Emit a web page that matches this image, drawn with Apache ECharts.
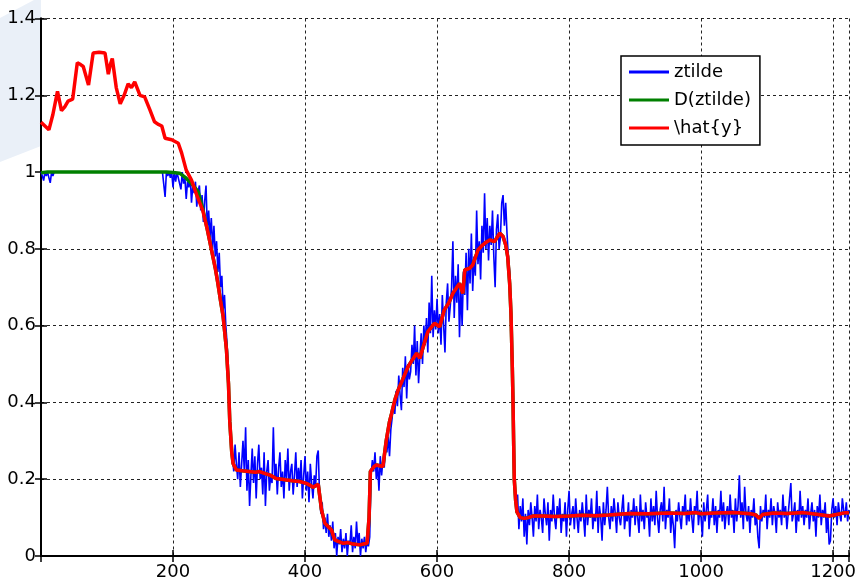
<!DOCTYPE html>
<html>
<head>
<meta charset="utf-8">
<script src="https://cdn.jsdelivr.net/npm/echarts@6/dist/echarts.min.js"></script>
<style>
  html, body { margin: 0; padding: 0; background: #ffffff; }
  #chart { width: 859px; height: 583px; }
</style>
</head>
<body>
<div id="chart"></div>
<script>
// ---- data ----------------------------------------------------------------
// x axis range and ticks
const xMax = 1224;
const xTickStep = 200;
const yTicks = [0, 0.2, 0.4, 0.6, 0.8, 1, 1.2, 1.4];

// ztilde: one value every zStep samples, starting at sample 0 (10 values per row)
const zStep = 2;
const ztilde = [
  1.0, 0.99, 0.978, 1.0, 0.99, 1.0, 0.985, 0.972, 1.0, 0.99,
  1.0, 1.0, 1.0, 1.0, 1.0, 1.0, 1.0, 1.0, 1.0, 1.0,
  1.0, 1.0, 1.0, 1.0, 1.0, 1.0, 1.0, 1.0, 1.0, 1.0,
  1.0, 1.0, 1.0, 1.0, 1.0, 1.0, 1.0, 1.0, 1.0, 1.0,
  1.0, 1.0, 1.0, 1.0, 1.0, 1.0, 1.0, 1.0, 1.0, 1.0,
  1.0, 1.0, 1.0, 1.0, 1.0, 1.0, 1.0, 1.0, 1.0, 1.0,
  1.0, 1.0, 1.0, 1.0, 1.0, 1.0, 1.0, 1.0, 1.0, 1.0,
  1.0, 1.0, 1.0, 1.0, 1.0, 1.0, 1.0, 1.0, 1.0, 1.0,
  1.0, 1.0, 1.0, 1.0, 1.0, 1.0, 1.0, 1.0, 1.0, 1.0,
  1.0, 1.0, 1.0, 1.0, 0.935, 1.0, 0.99, 1.0, 0.985, 1.0,
  0.96, 1.0, 0.975, 1.0, 0.985, 0.99, 0.955, 1.0, 0.97, 0.985,
  0.93, 0.975, 0.96, 0.99, 0.92, 0.965, 0.945, 0.975, 0.91, 0.95,
  0.965, 0.9, 0.94, 0.87, 0.925, 0.965, 0.85, 0.9, 0.83, 0.88,
  0.8, 0.86, 0.78, 0.82, 0.74, 0.79, 0.7, 0.73, 0.64, 0.68,
  0.6, 0.55, 0.47, 0.38, 0.3, 0.26, 0.22, 0.29, 0.24, 0.2,
  0.27, 0.18, 0.24, 0.3, 0.22, 0.335, 0.17, 0.25, 0.13, 0.21,
  0.28, 0.19, 0.26, 0.15, 0.24, 0.29, 0.2, 0.23, 0.16, 0.27,
  0.13, 0.22, 0.25, 0.17, 0.21, 0.19, 0.335, 0.2, 0.24, 0.16,
  0.23, 0.27, 0.18, 0.22, 0.15, 0.25, 0.2, 0.28, 0.17, 0.22,
  0.24, 0.16, 0.21, 0.27, 0.18, 0.23, 0.19, 0.25, 0.15, 0.21,
  0.26, 0.17, 0.22, 0.14, 0.24, 0.19, 0.15, 0.21, 0.18, 0.26,
  0.275, 0.16, 0.11, 0.14, 0.07, 0.1, 0.06, 0.11, 0.05, 0.08,
  0.04, 0.09, 0.02, 0.06, 0.0, 0.05, 0.03, 0.07, 0.01, 0.045,
  0.02, 0.06, 0.0, 0.04, 0.03, 0.08, 0.01, 0.05, 0.02, 0.09,
  0.03, 0.06, 0.0, 0.045, 0.02, 0.05, 0.01, 0.04, 0.025, 0.05,
  0.21, 0.25, 0.22, 0.27, 0.2, 0.24, 0.17, 0.26, 0.21, 0.25,
  0.23, 0.29, 0.27, 0.31, 0.26, 0.33, 0.36, 0.4, 0.37, 0.43,
  0.39, 0.47, 0.42, 0.38, 0.49, 0.44, 0.52, 0.41, 0.5, 0.46,
  0.48, 0.55, 0.5, 0.6, 0.47, 0.56, 0.45, 0.52, 0.58, 0.5,
  0.6, 0.55, 0.62, 0.53, 0.66, 0.58, 0.73, 0.57, 0.64, 0.59,
  0.67, 0.58, 0.63, 0.55, 0.68, 0.6, 0.53, 0.66, 0.71, 0.61,
  0.65, 0.7, 0.82, 0.62, 0.73, 0.66, 0.76, 0.57, 0.7, 0.6,
  0.74, 0.68, 0.79, 0.64, 0.8, 0.71, 0.84, 0.69, 0.78, 0.73,
  0.9, 0.76, 0.82, 0.72, 0.86, 0.79, 0.945, 0.8, 0.88, 0.77,
  0.86, 0.81, 0.9, 0.78, 0.7, 0.85, 0.89, 0.8, 0.83, 0.92,
  0.94, 0.86, 0.92, 0.84, 0.78, 0.74, 0.62, 0.45, 0.28, 0.16,
  0.12, 0.16, 0.07, 0.13, 0.09, 0.15, 0.05, 0.11, 0.03, 0.12,
  0.08, 0.14, 0.1, 0.05, 0.13, 0.09, 0.16, 0.07, 0.12, 0.1,
  0.06, 0.15, 0.11, 0.08, 0.14, 0.04, 0.12, 0.09, 0.16, 0.1,
  0.07, 0.13, 0.1, 0.15, 0.06, 0.11, 0.09, 0.14, 0.05, 0.12,
  0.17, 0.08, 0.11, 0.13, 0.07, 0.15, 0.1, 0.06, 0.12, 0.09,
  0.14, 0.1, 0.05, 0.16, 0.08, 0.12, 0.1, 0.15, 0.07, 0.11,
  0.09, 0.17, 0.06, 0.13, 0.1, 0.04, 0.14, 0.08, 0.12, 0.18,
  0.1, 0.07, 0.13, 0.09, 0.15, 0.11, 0.06, 0.14, 0.1, 0.08,
  0.12, 0.16, 0.07, 0.11, 0.09, 0.14, 0.05, 0.12, 0.1, 0.15,
  0.08, 0.13, 0.1, 0.06, 0.16, 0.09, 0.12, 0.07, 0.14, 0.1,
  0.11, 0.05, 0.15, 0.09, 0.13, 0.08, 0.17, 0.1, 0.06, 0.12,
  0.14, 0.09, 0.18, 0.07, 0.12, 0.1, 0.15, 0.06, 0.11, 0.08,
  0.02, 0.12, 0.09, 0.14, 0.1, 0.07, 0.13, 0.11, 0.16, 0.08,
  0.12, 0.09, 0.15, 0.1, 0.06, 0.13, 0.11, 0.17, 0.08, 0.12,
  0.1, 0.05, 0.14, 0.09, 0.12, 0.16, 0.07, 0.11, 0.1, 0.15,
  0.08, 0.13, 0.06, 0.12, 0.1, 0.17, 0.09, 0.14, 0.07, 0.11,
  0.13, 0.08, 0.16, 0.1, 0.12, 0.06, 0.15, 0.09, 0.13, 0.21,
  0.1, 0.14, 0.07, 0.18, 0.11, 0.09, 0.13, 0.06, 0.12, 0.1,
  0.15, 0.08, 0.11, 0.05, 0.02, 0.13, 0.09, 0.12, 0.1, 0.16,
  0.07, 0.12, 0.1, 0.15, 0.08, 0.13, 0.11, 0.06, 0.14, 0.1,
  0.12, 0.08, 0.16, 0.1, 0.13, 0.07, 0.11, 0.15, 0.19, 0.09,
  0.11, 0.14, 0.06, 0.12, 0.09, 0.17, 0.1, 0.13, 0.08, 0.12,
  0.1, 0.15, 0.07, 0.11, 0.14, 0.09, 0.12, 0.05, 0.13, 0.1,
  0.16, 0.08, 0.12, 0.1, 0.14, 0.06, 0.11, 0.03, 0.04, 0.12,
  0.15, 0.1, 0.13, 0.08, 0.14, 0.11, 0.09, 0.15, 0.12, 0.1,
  0.14, 0.09, 0.12
];

// \hat{y}: [sample, value]
const yhat = [
  [0, 1.13], [6, 1.12], [12, 1.11], [18, 1.15], [25, 1.21], [31, 1.16], [36, 1.17],
  [41, 1.185], [48, 1.19], [55, 1.285], [60, 1.28], [64, 1.275], [72, 1.227],
  [79, 1.31], [88, 1.312], [97, 1.31], [102, 1.255], [105, 1.28], [108, 1.296],
  [114, 1.22], [120, 1.178], [126, 1.2], [132, 1.23], [137, 1.22], [142, 1.235],
  [150, 1.2], [157, 1.196], [165, 1.162], [172, 1.131], [177, 1.125], [183, 1.12],
  [188, 1.088], [198, 1.084], [208, 1.075], [213, 1.05], [220, 1.005], [228, 0.979],
  [236, 0.94], [245, 0.9], [252, 0.85], [258, 0.8], [264, 0.75], [268, 0.71],
  [272, 0.665], [276, 0.623], [281, 0.537], [284, 0.45], [286, 0.35], [289, 0.27],
  [291, 0.241], [296, 0.224], [305, 0.222], [315, 0.22], [325, 0.218], [331, 0.22],
  [341, 0.214], [348, 0.21], [356, 0.202], [365, 0.2], [372, 0.198], [381, 0.196],
  [392, 0.194], [402, 0.189], [408, 0.184], [412, 0.179], [416, 0.183], [420, 0.187],
  [425, 0.12], [430, 0.085], [436, 0.075], [440, 0.068], [445, 0.042], [450, 0.038],
  [458, 0.033], [465, 0.035], [473, 0.031], [483, 0.029], [490, 0.032], [494, 0.033],
  [497, 0.1], [499, 0.22], [504, 0.232], [508, 0.237], [513, 0.235], [518, 0.233],
  [523, 0.3], [528, 0.35], [531, 0.37], [536, 0.406], [541, 0.432], [548, 0.46],
  [556, 0.493], [563, 0.512], [569, 0.528], [574, 0.515], [580, 0.55], [586, 0.584],
  [596, 0.606], [604, 0.597], [611, 0.641], [618, 0.66], [624, 0.684], [630, 0.7],
  [634, 0.71], [639, 0.684], [642, 0.745], [649, 0.749], [654, 0.758], [662, 0.797],
  [669, 0.81], [675, 0.818], [680, 0.823], [687, 0.819], [695, 0.841], [700, 0.832],
  [704, 0.81], [707, 0.78], [710, 0.71], [712, 0.632], [714, 0.493], [715, 0.411],
  [716, 0.3], [717, 0.2], [719, 0.146], [721, 0.115], [726, 0.1], [732, 0.098],
  [738, 0.1], [745, 0.104], [760, 0.104], [780, 0.103], [800, 0.104], [820, 0.106],
  [840, 0.105], [860, 0.107], [891, 0.111], [920, 0.11], [950, 0.112], [975, 0.111],
  [992, 0.113], [1000, 0.11], [1020, 0.112], [1050, 0.113], [1075, 0.11], [1083, 0.107],
  [1088, 0.098], [1093, 0.108], [1110, 0.112], [1130, 0.111], [1155, 0.113],
  [1175, 0.109], [1194, 0.104], [1205, 0.108], [1219, 0.113], [1224, 0.112]
];

// D(ztilde): saturated head, then it runs with \hat{y}
const dHead = [
  [0, 0.998], [10, 1.0], [30, 1.0], [33, 1.003], [36, 1.0], [100, 1.0], [190, 1.0],
  [200, 0.999], [210, 0.997], [220, 0.984], [230, 0.966], [238, 0.949], [245, 0.905]
];
const dTailFrom = 252;

// ---- chart ---------------------------------------------------------------
const FONT = 'DejaVu Sans';
const chart = echarts.init(document.getElementById('chart'), null, { renderer: 'canvas' });

const ztildeData = ztilde.map((v, i) => [i * zStep, v]);
const dData = dHead.concat(yhat.filter(p => p[0] >= dTailFrom));

const frameAxis = {
  axisLine: { show: true, lineStyle: { color: '#000', width: 2 } },
  axisTick: { show: true, inside: true, length: 6, lineStyle: { color: '#000', width: 1.5 } },
  splitLine: { show: false },
  axisLabel: { show: false }
};

chart.setOption({
  animation: false,
  backgroundColor: '#ffffff',
  graphic: [{
    type: 'polygon',
    z: -10,
    shape: { points: [[0, 18], [34, 0], [41, 0], [41, 146], [0, 162]] },
    style: { fill: '#eaf0f8' }
  }],
  grid: { left: 41, top: 18.5, right: 9.5, bottom: 27, containLabel: false },
  legend: {
    orient: 'vertical',
    left: 621,
    top: 56,
    backgroundColor: '#ffffff',
    borderColor: '#000000',
    borderWidth: 1.5,
    borderRadius: 0,
    padding: [6, 9, 7, 8],
    itemWidth: 40,
    itemHeight: 3,
    itemGap: 8,
    icon: 'rect',
    textStyle: { fontFamily: FONT, fontSize: 18, color: '#000', lineHeight: 20 },
    data: ['ztilde', 'D(ztilde)', '\\hat{y}']
  },
  xAxis: [{
    type: 'value',
    min: 0,
    max: xMax,
    interval: xTickStep,
    axisLine: { show: true, lineStyle: { color: '#000', width: 2 } },
    axisTick: { show: true, inside: true, length: 6, lineStyle: { color: '#000', width: 1.5 } },
    axisLabel: {
      fontFamily: FONT, fontSize: 18, color: '#000', margin: 7,
      formatter: v => (v === 0 || v % xTickStep !== 0) ? '' : String(v)
    },
    splitLine: { show: true, lineStyle: { color: '#222', width: 1, type: [3, 3] } }
  }, Object.assign({ type: 'value', position: 'top', min: 0, max: xMax, interval: xTickStep }, frameAxis)],
  yAxis: [{
    type: 'value',
    min: yTicks[0],
    max: yTicks[yTicks.length - 1],
    interval: 0.2,
    axisLine: { show: true, lineStyle: { color: '#000', width: 2 } },
    axisTick: { show: true, inside: true, length: 6, lineStyle: { color: '#000', width: 1.5 } },
    axisLabel: {
      fontFamily: FONT, fontSize: 18, color: '#000', margin: 5,
      formatter: v => String(Math.round(v * 10) / 10)
    },
    splitLine: { show: true, lineStyle: { color: '#222', width: 1, type: [3, 3] } }
  }, Object.assign({ type: 'value', position: 'right', min: 0, max: 1.4, interval: 0.2 }, frameAxis)],
  series: [{
    name: 'ztilde',
    type: 'line',
    data: ztildeData,
    showSymbol: false,
    symbol: 'none',
    color: '#0000ff',
    lineStyle: { color: '#0000ff', width: 1.6 },
    z: 2
  }, {
    name: 'D(ztilde)',
    type: 'line',
    data: dData,
    showSymbol: false,
    symbol: 'none',
    color: '#008000',
    lineStyle: { color: '#008000', width: 3.5 },
    z: 3
  }, {
    name: '\\hat{y}',
    type: 'line',
    data: yhat,
    showSymbol: false,
    symbol: 'none',
    color: '#ff0000',
    lineStyle: { color: '#ff0000', width: 3.5 },
    z: 4
  }]
});
</script>
</body>
</html>
